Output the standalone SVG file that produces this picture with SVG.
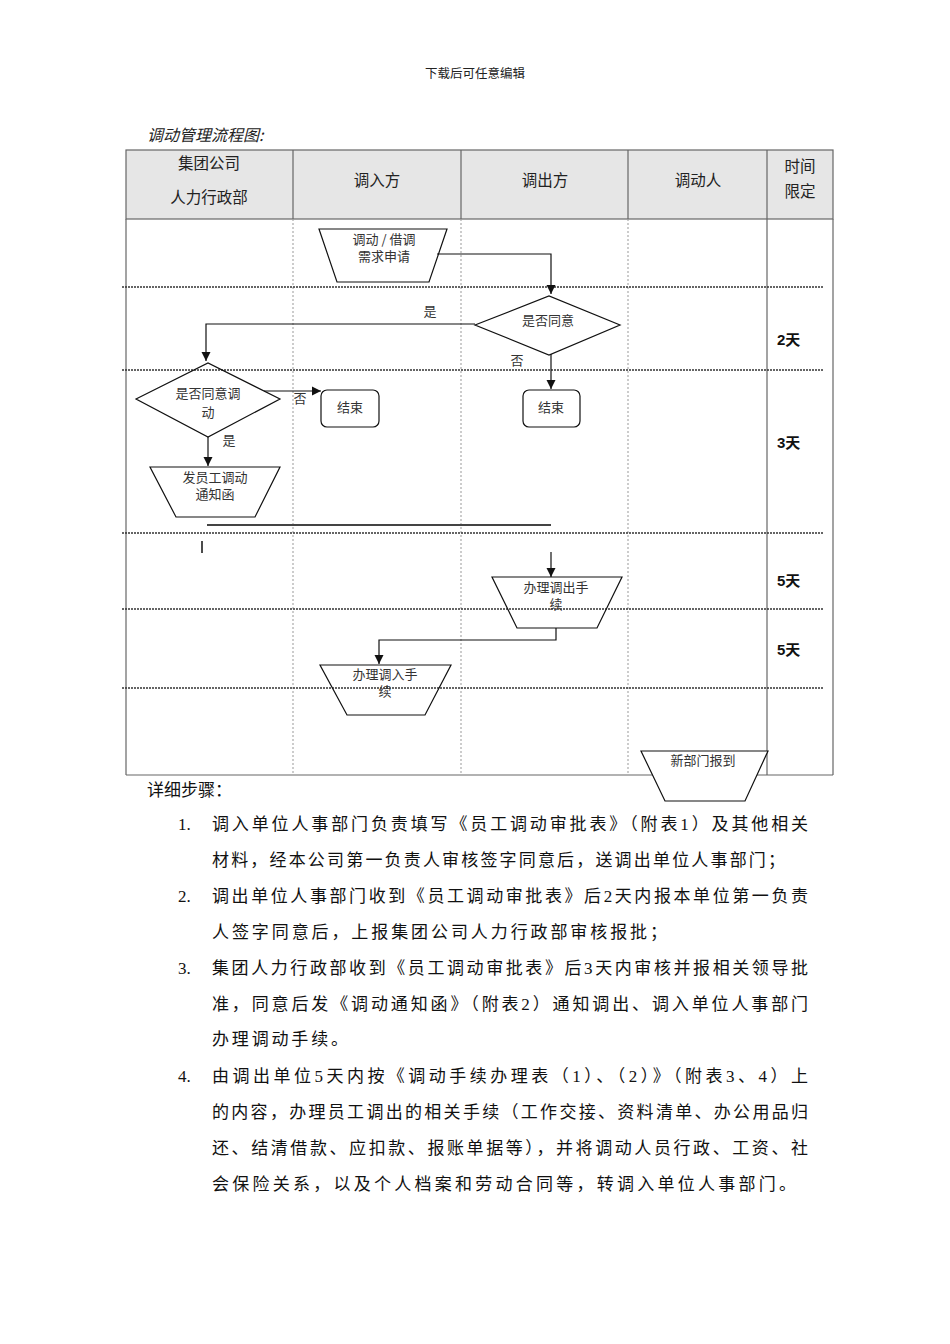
<svg xmlns="http://www.w3.org/2000/svg" width="950" height="1344" viewBox="0 0 950 1344">
<style>
.cjk{font-family:"Noto Sans CJK SC","Noto Sans",sans-serif;fill:#222}
.body{font-family:"Liberation Serif","Noto Sans CJK SC",serif;font-size:17px;fill:#111}
.hd{font-size:15.5px;text-anchor:middle}
.nt{font-family:"Noto Sans CJK SC",sans-serif;font-size:13px;fill:#333;text-anchor:middle}
.tl{font-family:"Liberation Sans","Noto Sans CJK SC",sans-serif;font-size:15px;font-weight:bold;fill:#111}
.shape{fill:none;stroke:#111;stroke-width:1.2}
.conn{fill:none;stroke:#111;stroke-width:1.2}
.row{stroke:#333;stroke-width:1.5;stroke-dasharray:2 1}
.col{stroke:#999;stroke-width:1;stroke-dasharray:2 2}
.border{stroke:#666;stroke-width:1.2;fill:none}
</style>
<defs>
<marker id="arr" viewBox="0 0 10 10" refX="10" refY="5" markerWidth="9" markerHeight="10" markerUnits="userSpaceOnUse" orient="auto">
<path d="M0,0 L10,5 L0,10 z" fill="#111"/>
</marker>
</defs>
<rect width="950" height="1344" fill="#fff"/>
<text class="cjk" x="475" y="78" font-size="12.5" text-anchor="middle" fill="#333">下载后可任意编辑</text>
<text class="cjk" x="147" y="141" font-size="16" font-style="italic">调动管理流程图:</text>

<g id="table">
<rect x="126" y="150" width="707" height="69" fill="#e6e6e6" stroke="#666" stroke-width="1.2"/>
<line class="border" x1="293" y1="150" x2="293" y2="219"/>
<line class="border" x1="461" y1="150" x2="461" y2="219"/>
<line class="border" x1="628" y1="150" x2="628" y2="219"/>
<line class="border" x1="767" y1="150" x2="767" y2="775"/>
<line class="border" x1="126" y1="219" x2="126" y2="775"/>
<line class="border" x1="833" y1="219" x2="833" y2="775"/>
<line class="border" x1="126" y1="775" x2="833" y2="775"/>
<line class="col" x1="293" y1="219" x2="293" y2="775"/>
<line class="col" x1="461" y1="219" x2="461" y2="775"/>
<line class="col" x1="628" y1="219" x2="628" y2="775"/>
<line class="row" x1="122" y1="287" x2="823" y2="287"/>
<line class="row" x1="122" y1="370" x2="823" y2="370"/>
<line class="row" x1="122" y1="533" x2="823" y2="533"/>
<line class="row" x1="122" y1="609" x2="823" y2="609"/>
<line class="row" x1="122" y1="688" x2="823" y2="688"/>
<text class="cjk hd" x="209" y="169">集团公司</text>
<text class="cjk hd" x="209" y="203">人力行政部</text>
<text class="cjk hd" x="377" y="186">调入方</text>
<text class="cjk hd" x="545" y="186">调出方</text>
<text class="cjk hd" x="698" y="186">调动人</text>
<text class="cjk hd" x="800" y="172">时间</text>
<text class="cjk hd" x="800" y="197">限定</text>
<text class="tl" x="777" y="345">2天</text>
<text class="tl" x="777" y="448">3天</text>
<text class="tl" x="777" y="586">5天</text>
<text class="tl" x="777" y="655">5天</text>
</g>

<g id="connectors">
<path class="conn" d="M437,254 H551 V294" marker-end="url(#arr)"/>
<path class="conn" d="M475,324 H206 V361" marker-end="url(#arr)"/>
<path class="conn" d="M551,354 V389" marker-end="url(#arr)"/>
<path class="conn" d="M264,391 H321" marker-end="url(#arr)"/>
<path class="conn" d="M208,437 V466" marker-end="url(#arr)"/>
<line x1="207" y1="525" x2="551" y2="525" stroke="#444" stroke-width="2"/>
<line x1="202" y1="541" x2="202" y2="553" stroke="#111" stroke-width="1.5"/>
<path class="conn" d="M551,552 V577" marker-end="url(#arr)"/>
<path class="conn" d="M556,628 V640 H379 V664" marker-end="url(#arr)"/>
<text class="nt" x="430" y="316">是</text>
<text class="nt" x="517" y="365">否</text>
<text class="nt" x="300" y="403">否</text>
<text class="nt" x="229" y="445">是</text>
</g>

<g id="n1">
<polygon class="shape" points="319,229 447,229 429,282 337,282"/>
<text class="nt" x="384" y="244">调动 / 借调</text>
<text class="nt" x="384" y="261">需求申请</text>
</g>
<g id="n2">
<polygon class="shape" points="475,325 549,296 620,325 549,355"/>
<text class="nt" x="548" y="325">是否同意</text>
</g>
<g id="n3">
<polygon class="shape" points="136,399 208,363 280,399 208,437"/>
<text class="nt" x="208" y="398">是否同意调</text>
<text class="nt" x="208" y="417">动</text>
</g>
<g id="n4">
<rect class="shape" x="321" y="390" width="58" height="37" rx="6"/>
<text class="nt" x="350" y="412">结束</text>
</g>
<g id="n5">
<rect class="shape" x="523" y="390" width="57" height="37" rx="6"/>
<text class="nt" x="551" y="412">结束</text>
</g>
<g id="n6">
<polygon class="shape" points="150,467 280,467 255,517 176,517"/>
<text class="nt" x="215" y="482">发员工调动</text>
<text class="nt" x="215" y="499">通知函</text>
</g>
<g id="n7">
<polygon class="shape" points="492,577 622,577 597,628 517,628"/>
<text class="nt" x="556" y="592">办理调出手</text>
<text class="nt" x="556" y="609">续</text>
</g>
<g id="n8">
<polygon class="shape" points="320,665 451,665 425,715 347,715"/>
<text class="nt" x="385" y="679">办理调入手</text>
<text class="nt" x="385" y="696">续</text>
</g>
<g id="n9">
<polygon class="shape" points="641,751 768,751 745,801 665,801" style="fill:#fff"/>
<text class="nt" x="703" y="765">新部门报到</text>
</g>

<g id="steps">
<text class="body" x="147" y="796">详细步骤：</text>
<text class="body" x="178" y="830">1.</text>
<text class="body" x="212" y="830" textLength="596" lengthAdjust="spacing">调入单位人事部门负责填写《员工调动审批表》（附表1）及其他相关</text>
<text class="body" x="212" y="866" textLength="573" lengthAdjust="spacing">材料，经本公司第一负责人审核签字同意后，送调出单位人事部门；</text>
<text class="body" x="178" y="902">2.</text>
<text class="body" x="212" y="902" textLength="596" lengthAdjust="spacing">调出单位人事部门收到《员工调动审批表》后2天内报本单位第一负责</text>
<text class="body" x="212" y="938" textLength="455" lengthAdjust="spacing">人签字同意后，上报集团公司人力行政部审核报批；</text>
<text class="body" x="178" y="974">3.</text>
<text class="body" x="212" y="974" textLength="596" lengthAdjust="spacing">集团人力行政部收到《员工调动审批表》后3天内审核并报相关领导批</text>
<text class="body" x="212" y="1010" textLength="596" lengthAdjust="spacing">准，同意后发《调动通知函》（附表2）通知调出、调入单位人事部门</text>
<text class="body" x="212" y="1045" textLength="136" lengthAdjust="spacing">办理调动手续。</text>
<text class="body" x="178" y="1082">4.</text>
<text class="body" x="212" y="1082" textLength="596" lengthAdjust="spacing">由调出单位5天内按《调动手续办理表（1）、（2）》（附表3、4）上</text>
<text class="body" x="212" y="1118" textLength="596" lengthAdjust="spacing">的内容，办理员工调出的相关手续（工作交接、资料清单、办公用品归</text>
<text class="body" x="212" y="1154" textLength="596" lengthAdjust="spacing">还、结清借款、应扣款、报账单据等），并将调动人员行政、工资、社</text>
<text class="body" x="212" y="1190" textLength="584" lengthAdjust="spacing">会保险关系，以及个人档案和劳动合同等，转调入单位人事部门。</text>
</g>
</svg>
